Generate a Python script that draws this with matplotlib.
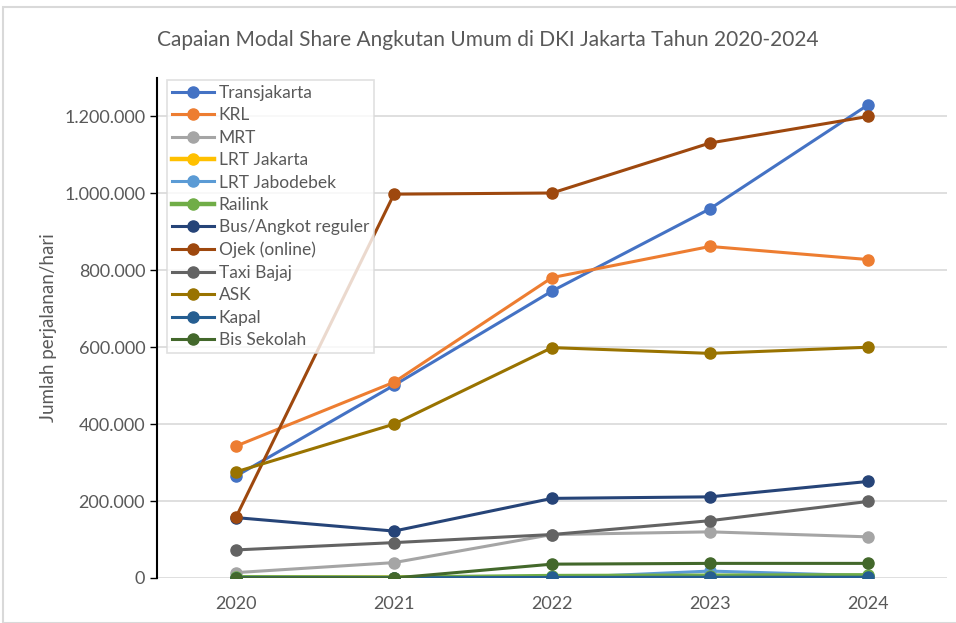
import matplotlib.pyplot as plt
from matplotlib.ticker import FuncFormatter
from matplotlib.patches import Rectangle

plt.rcParams['font.family'] = ['Lato', 'DejaVu Sans']

years = ['2020', '2021', '2022', '2023', '2024']

transjakarta = [265000, 501000, 746000, 960000, 1230000]
krl = [343000, 509000, 781000, 862000, 828000]
mrt = [14000, 40000, 113000, 120000, 107000]
lrt_jakarta = [1000, 1000, 2000, 2500, 2000]
lrt_jabodebek = [0, 0, 0, 18000, 6000]
railink = [2000, 1000, 5000, 6000, 7000]
bus_angkot = [157000, 122000, 207000, 211000, 251000]
ojek = [158000, 998000, 1001000, 1131000, 1200000]
taxi_bajaj = [73000, 92000, 113000, 149000, 199000]
ask = [276000, 400000, 599000, 584000, 600000]
kapal = [1000, 500, 1500, 2000, 2000]
bis_sekolah = [0, 0, 36000, 38000, 38000]

series = [
    ('Transjakarta', transjakarta, '#4472C4'),
    ('KRL', krl, '#ED7D31'),
    ('MRT', mrt, '#A5A5A5'),
    ('LRT Jakarta', lrt_jakarta, '#FFC000'),
    ('LRT Jabodebek', lrt_jabodebek, '#5B9BD5'),
    ('Railink', railink, '#70AD47'),
    ('Bus/Angkot reguler', bus_angkot, '#264478'),
    ('Ojek (online)', ojek, '#9E480E'),
    ('Taxi Bajaj', taxi_bajaj, '#636363'),
    ('ASK', ask, '#997300'),
    ('Kapal', kapal, '#255E91'),
    ('Bis Sekolah', bis_sekolah, '#43682B'),
]

fig = plt.figure(figsize=(9.56, 6.23), dpi=100)
ax = fig.add_axes([157 / 956, 1 - 578 / 623, 790 / 956, 500 / 623])

x = list(range(len(years)))
for name, vals, col in series:
    lw = 3.2 if name in ('LRT Jakarta', 'Railink') else 2.2
    ax.plot(x, vals, color=col, lw=lw, marker='o', markersize=8, label=name)

ax.set_xlim(-0.5, 4.5)
ax.set_ylim(0, 1300000)
ax.set_yticks(range(0, 1200001, 200000))
ax.yaxis.set_major_formatter(FuncFormatter(lambda v, p: f'{int(v):,}'.replace(',', '.')))
ax.set_xticks(x)
ax.set_xticklabels(years)

ax.grid(axis='y', color='#D9D9D9', lw=1.2)
ax.set_axisbelow(True)
for s in ['top', 'right', 'bottom']:
    ax.spines[s].set_visible(False)
ax.spines['left'].set_color('black')
ax.spines['left'].set_linewidth(1.5)
ax.tick_params(axis='y', direction='out', length=5, width=1, colors='black', labelcolor='#595959', labelsize=13)
ax.tick_params(axis='x', length=0, labelcolor='#595959', labelsize=13, pad=13)

ax.set_ylabel('Jumlah perjalanan/hari', fontsize=13.5, color='#595959', labelpad=5)

fig.text(488 / 956, 1 - 40 / 623, 'Capaian Modal Share Angkutan Umum di DKI Jakarta Tahun 2020-2024',
         ha='center', va='center', fontsize=15, color='#595959')

leg = fig.legend(loc='upper left', bbox_to_anchor=(167 / 956, 1 - 80 / 623), fontsize=12.5,
                 frameon=True, fancybox=False, edgecolor='#D9D9D9', handlelength=2.4,
                 labelspacing=0.37, borderpad=0.28, borderaxespad=0, handletextpad=0.3,
                 labelcolor='#595959')
leg.get_frame().set_linewidth(1.2)

fig.patches.append(Rectangle((3 / 956, 0), 1, 1 - 7 / 623, transform=fig.transFigure,
                             fill=False, edgecolor='#D9D9D9', lw=1.5))

fig.savefig('out.png', dpi=100)
